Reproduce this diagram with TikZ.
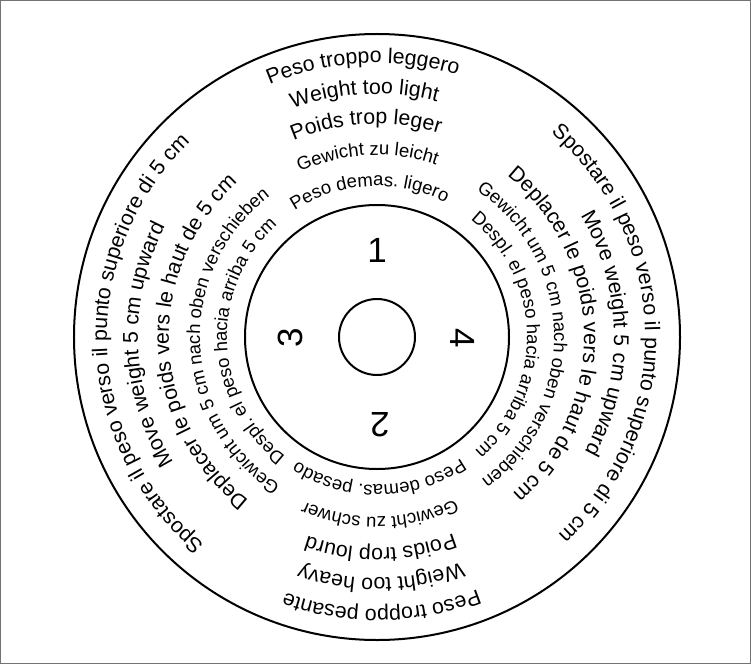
\documentclass[tikz,border=0pt]{standalone}
\usepackage{fontspec}
\setmainfont{Liberation Sans}
\usetikzlibrary{decorations.text}

\newcommand{\bigTxt}{\fontsize{21.3}{24}\selectfont}
\newcommand{\smallTxt}{\fontsize{18.5}{21}\selectfont}

\begin{document}
\begin{tikzpicture}[
    x=1pt, y=1pt,
    ring/.style={draw=black, line width=2pt},
    frame/.style={draw=black!55, line width=1pt},
    ringText/.style={decorate, decoration={text along path, text align=center, text={#1}}},
    digit/.style={font=\fontsize{35}{35}\selectfont, inner sep=0pt}
]
\useasboundingbox (-377,-327) rectangle (374,337);
\draw[frame] (-376.5,-326.5) rectangle (373.5,336.5);

% Rings
\coordinate (hub) at (0,0);
\draw[ring] (hub) circle[radius=303];
\draw[ring] (hub) circle[radius=132];
\draw[ring] (hub) circle[radius=38];

% Sector numbers
\node[digit] (n1) at (0,87) {1};
\node[digit, rotate=180] (n2) at (3,-88) {2};
\node[digit, rotate=90] (n3) at (-87,-1) {3};
\node[digit, rotate=-90] (n4) at (86,-1) {4};

% Top: too light
\path[ringText={|\bigTxt|Peso troppo leggero}] (153:274) arc[start angle=153, end angle=33, radius=274];
\path[ringText={|\bigTxt|Weight too light}] (153:243) arc[start angle=153, end angle=33, radius=243];
\path[ringText={|\bigTxt|Poids trop leger}] (153:213) arc[start angle=153, end angle=33, radius=213];
\path[ringText={|\smallTxt|Gewicht zu leicht}] (153:182) arc[start angle=153, end angle=33, radius=182];
\path[ringText={|\smallTxt|Peso demas. ligero}] (153:151) arc[start angle=153, end angle=33, radius=151];

% Bottom: too heavy
\path[ringText={|\bigTxt|Peso troppo pesante}] (331:272) arc[start angle=331, end angle=211, radius=272];
\path[ringText={|\bigTxt|Weight too heavy}] (331:241) arc[start angle=331, end angle=211, radius=241];
\path[ringText={|\bigTxt|Poids trop lourd}] (331:211) arc[start angle=331, end angle=211, radius=211];
\path[ringText={|\smallTxt|Gewicht zu schwer}] (331:180) arc[start angle=331, end angle=211, radius=180];
\path[ringText={|\smallTxt|Peso demas. pesado}] (331:148) arc[start angle=331, end angle=211, radius=148];

% Left: move up
\path[ringText={|\bigTxt|Spostare il peso verso il punto superiore di 5 cm}] (247:270) arc[start angle=247, end angle=117, radius=270];
\path[ringText={|\bigTxt|Move weight 5 cm upward}] (247:239) arc[start angle=247, end angle=117, radius=239];
\path[ringText={|\bigTxt|Deplacer le poids vers le haut de 5 cm}] (247:208) arc[start angle=247, end angle=117, radius=208];
\path[ringText={|\smallTxt|Gewicht um 5 cm nach oben verschieben}] (247:177) arc[start angle=247, end angle=117, radius=177];
\path[ringText={|\smallTxt|Despl. el peso hacia arriba 5 cm}] (247:150) arc[start angle=247, end angle=117, radius=150];

% Right: move up
\path[ringText={|\bigTxt|Spostare il peso verso il punto superiore di 5 cm}] (66:268) arc[start angle=66, end angle=-64, radius=268];
\path[ringText={|\bigTxt|Move weight 5 cm upward}] (66:237) arc[start angle=66, end angle=-64, radius=237];
\path[ringText={|\bigTxt|Deplacer le poids vers le haut de 5 cm}] (66:207) arc[start angle=66, end angle=-64, radius=207];
\path[ringText={|\smallTxt|Gewicht um 5 cm nach oben verschieben}] (66:177) arc[start angle=66, end angle=-64, radius=177];
\path[ringText={|\smallTxt|Despl. el peso hacia arriba 5 cm}] (66:150) arc[start angle=66, end angle=-64, radius=150];

\end{tikzpicture}
\end{document}
